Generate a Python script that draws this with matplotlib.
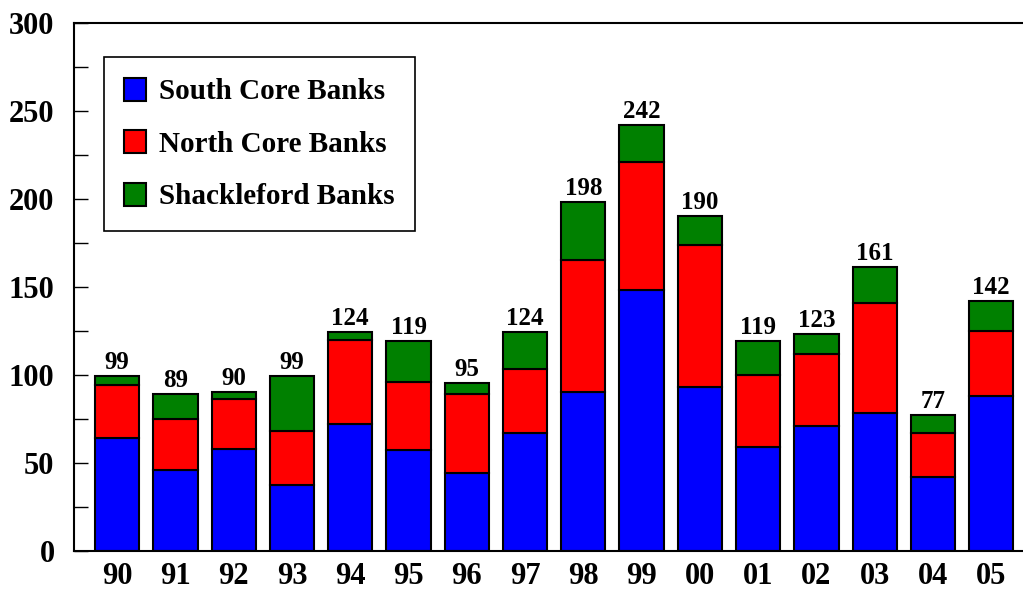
import matplotlib
matplotlib.use("Agg")
import matplotlib.pyplot as plt
import numpy as np
from matplotlib.ticker import MultipleLocator

years = ["90", "91", "92", "93", "94", "95", "96", "97", "98", "99", "00", "01", "02", "03", "04", "05"]
south = [64, 46, 58, 37, 72, 57, 44, 67, 90, 148, 93, 59, 71, 78, 42, 88]
north = [30, 29, 28, 31, 48, 39, 45, 36, 75, 73, 81, 41, 41, 63, 25, 37]
shack = [5, 14, 4, 31, 4, 23, 6, 21, 33, 21, 16, 19, 11, 20, 10, 17]
totals = [99, 89, 90, 99, 124, 119, 95, 124, 198, 242, 190, 119, 123, 161, 77, 142]

plt.rcParams['font.family'] = ['Liberation Serif', 'DejaVu Serif']
plt.rcParams['font.weight'] = 'bold'

fig = plt.figure(figsize=(10.23, 5.9), dpi=100)
ax = fig.add_axes([74/1023, 1 - 550.5/590, 1.0 - 74/1023 + 0.01, (550.5 - 23)/590])

x = np.arange(len(years))
w = 0.76
s = np.array(south)
n = np.array(north)
k = np.array(shack)
ax.bar(x, s, w, color='#0000ff', edgecolor='black', linewidth=1.5, label='South Core Banks', zorder=2)
ax.bar(x, n, w, bottom=s, color='#ff0000', edgecolor='black', linewidth=1.5, label='North Core Banks', zorder=2)
ax.bar(x, k, w, bottom=s + n, color='#008000', edgecolor='black', linewidth=1.5, label='Shackleford Banks', zorder=2)

for xi, t in zip(x, totals):
    ax.text(xi, t + 1.2, str(t), ha='center', va='bottom', fontsize=18, fontweight='bold')

ax.set_ylim(0, 300)
ax.set_xlim(-0.74, 15.72)
ax.yaxis.set_major_locator(MultipleLocator(50))
ax.yaxis.set_minor_locator(MultipleLocator(25))
ax.set_xticks(x)
ax.set_xticklabels(years)
ax.tick_params(axis='y', which='both', direction='in', length=10, width=1, labelsize=22, pad=14, right=False)
ax.tick_params(axis='x', which='major', direction='in', length=11, width=1, labelsize=22, pad=8, top=False)
for lab in ax.get_xticklabels() + ax.get_yticklabels():
    lab.set_fontweight('bold')
ax.spines['right'].set_visible(False)
for sp in ['left', 'top', 'bottom']:
    ax.spines[sp].set_linewidth(1.5)

leg = ax.legend(loc='upper left', bbox_to_anchor=(0.031, 0.935), fontsize=21, frameon=True,
                fancybox=False, edgecolor='black', framealpha=1, handlelength=0.75, handleheight=0.85,
                labelspacing=0.85, borderpad=0.7, handletextpad=0.45, borderaxespad=0)
leg.get_frame().set_linewidth(1.2)
for t in leg.get_texts():
    t.set_fontweight('bold')

fig.savefig("out.png", dpi=100)
